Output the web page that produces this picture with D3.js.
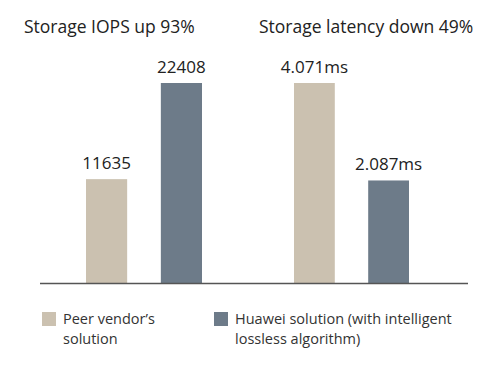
<!DOCTYPE html>
<html><head><meta charset="utf-8">
<script src="https://cdn.jsdelivr.net/npm/d3@7"></script>
<style>body{margin:0;background:#fff}svg{display:block}</style>
</head><body>
<svg id="c" width="500" height="371"></svg>
<script>
const titles = ["Storage IOPS up 93%", "Storage latency down 49%"];
const seriesNames = ["Peer vendor\u2019s solution", "Huawei solution (with intelligent lossless algorithm)"];
const legendLines = [["Peer vendor\u2019s", "solution"], ["Huawei solution (with intelligent", "lossless algorithm)"]];
const iopsValues = [11635, 22408];
const iopsLabels = ["11635", "22408"];
const latencyValues = [4.071, 2.087];
const latencyLabels = ["4.071ms", "2.087ms"];
const colors = ["#cbc1b0", "#6d7b89"];

const svg = d3.select("#c");
const font = "'Open Sans', 'Noto Sans', sans-serif";
const baseY = 283, topY = 83;

const panels = [
  {title: titles[0], values: iopsValues, labels: iopsLabels, x0: 86, x1: 202, tx: 24},
  {title: titles[1], values: latencyValues, labels: latencyLabels, x0: 294, x1: 409, tx: 259}
];

panels.forEach(p => {
  const x = d3.scaleBand().domain([0,1]).range([p.x0, p.x1]).paddingInner(0.45).paddingOuter(0);
  const y = d3.scaleLinear().domain([0, d3.max(p.values)]).range([baseY, topY]);
  const g = svg.append("g");
  g.selectAll("rect").data(p.values).join("rect")
    .attr("x", (d,i) => x(i)).attr("width", x.bandwidth())
    .attr("y", d => y(d)).attr("height", d => baseY - y(d))
    .attr("fill", (d,i) => colors[i]);
  g.selectAll("text.v").data(p.values).join("text").attr("class","v")
    .attr("x", (d,i) => x(i) + x.bandwidth()/2).attr("y", d => y(d) - 10)
    .attr("text-anchor","middle").attr("font-family", font).attr("font-size", 17)
    .attr("fill","#222").text((d,i) => p.labels[i]);
  svg.append("text").attr("x", p.tx).attr("y", 33).attr("font-family", font)
    .attr("font-size", 17.5).attr("fill","#222").text(p.title);
});

svg.append("line").attr("x1",40).attr("x2",468).attr("y1",baseY+0.5).attr("y2",baseY+0.5)
  .attr("stroke","#555").attr("stroke-width",1.5);

const lx = [42, 214];
seriesNames.forEach((n,i) => {
  svg.append("rect").attr("x", lx[i]).attr("y", 312).attr("width", 14).attr("height", 14).attr("fill", colors[i]);
  const t = svg.append("text").attr("x", lx[i]+21).attr("y", 324).attr("font-family", font)
    .attr("font-size", 14.5).attr("fill","#333");
  legendLines[i].forEach((l,j) => t.append("tspan").attr("x", lx[i]+21).attr("dy", j===0?0:20).text(l));
});
</script>
</body></html>
